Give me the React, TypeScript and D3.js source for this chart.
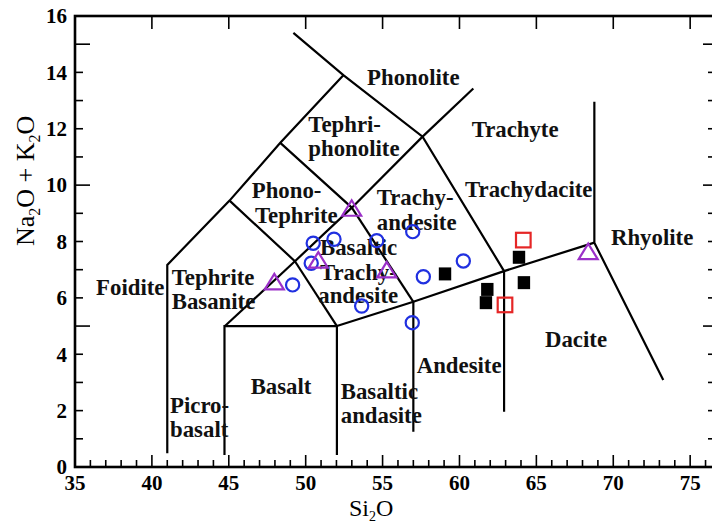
import React from "react";
import * as d3 from "d3";

// ---------- data ----------
const xTickLabels = [35, 40, 45, 50, 55, 60, 65, 70, 75];
const yTickLabels = [0, 2, 4, 6, 8, 10, 12, 14, 16];

// TAS field boundaries (SiO2, Na2O+K2O)
const boundaries: [number, number][][] = [
  [[41.0, 0.49], [41.0, 7.17], [45.05, 9.45], [48.35, 11.5], [52.45, 13.9]],
  [[49.2, 15.4], [52.45, 13.9], [57.6, 11.72], [62.9, 6.95]],
  [[57.6, 11.72], [60.9, 13.43]],
  [[48.35, 11.5], [53.0, 9.2], [57.6, 11.72]],
  [[45.05, 9.45], [49.3, 7.3], [53.0, 9.2]],
  [[53.0, 9.2], [57.0, 5.86]],
  [[49.3, 7.3], [52.03, 5.0]],
  [[44.75, 5.0], [49.3, 7.3]],
  [[44.72, 0.43], [44.72, 5.0], [52.03, 5.0], [52.03, 0.43]],
  [[52.03, 5.0], [57.0, 5.86], [62.9, 6.95], [68.77, 7.96]],
  [[57.0, 5.86], [57.0, 1.25]],
  [[62.9, 6.95], [62.9, 1.96]],
  [[68.77, 12.96], [68.77, 7.96], [73.25, 3.09]],
];

// field names: [text, SiO2 at start, alkali at baseline]
const fieldLabels: [string, number, number][] = [
  ["Phonolite", 53.99, 13.55],
  ["Tephri-", 50.17, 11.89],
  ["phonolite", 50.17, 11.05],
  ["Phono-", 46.49, 9.54],
  ["Tephrite", 46.7, 8.66],
  ["Trachy-", 54.62, 9.29],
  ["andesite", 54.62, 8.41],
  ["Trachyte", 60.79, 11.7],
  ["Trachydacite", 60.36, 9.59],
  ["Rhyolite", 69.85, 7.89],
  ["Dacite", 65.56, 4.27],
  ["Andesite", 57.22, 3.35],
  ["Basaltic", 52.28, 2.4],
  ["andasite", 52.28, 1.55],
  ["Basalt", 46.42, 2.59],
  ["Picro-", 41.18, 1.9],
  ["basalt", 41.18, 1.07],
  ["Foidite", 36.37, 6.1],
  ["Tephrite", 41.29, 6.46],
  ["Basanite", 41.29, 5.59],
  ["Basaltic", 50.93, 7.52],
  ["Trachy-", 50.93, 6.63],
  ["andesite", 50.82, 5.81],
];

const circleSi = [49.15, 50.36, 50.49, 51.84, 54.62, 53.64, 56.96, 60.25, 57.65, 56.93];
const circleAlk = [6.46, 7.23, 7.94, 8.08, 8.03, 5.71, 8.35, 7.31, 6.75, 5.12];

const triangleSi = [52.99, 50.82, 55.27, 47.96, 68.37];
const triangleAlk = [9.18, 7.34, 6.99, 6.57, 7.64];

const openSquareSi = [64.15, 62.96];
const openSquareAlk = [8.05, 5.75];

const filledSquareSi = [59.06, 61.81, 61.72, 63.87, 64.19];
const filledSquareAlk = [6.85, 6.3, 5.83, 7.44, 6.54];

// ---------- chart ----------
const W = 712;
const H = 527;
const FONT = "'Liberation Serif', 'Times New Roman', serif";

export default function App() {
  const x = d3.scaleLinear().domain([35, 76.68]).range([75, 716]);
  const y = d3.scaleLinear().domain([0, 16]).range([467, 16]);
  const line = d3
    .line<[number, number]>()
    .x((d) => x(d[0]))
    .y((d) => y(d[1]));

  const [x0, x1] = x.range();
  const [y0, y1] = y.range();
  const xInts = d3.range(36, 77);
  const yInts = d3.range(1, 16);

  return (
    <svg
      width={W}
      height={H}
      style={{ position: "absolute", left: 0, top: 0, background: "#fff" }}
      fontFamily={FONT}
    >
      {/* boundaries */}
      {boundaries.map((b, i) => (
        <path key={i} d={line(b) || ""} fill="none" stroke="#000" strokeWidth={2.2} strokeLinejoin="miter" />
      ))}

      {/* field labels */}
      {fieldLabels.map(([t, sx, sy], i) => (
        <text key={i} x={x(sx)} y={y(sy)} fontSize={22.8} fontWeight="bold" fill="#111">
          {t}
        </text>
      ))}

      {/* frame */}
      <rect x={x0} y={y1} width={x1 - x0} height={y0 - y1} fill="none" stroke="#000" strokeWidth={2.6} />

      {/* bottom ticks */}
      {xInts.map((v) => (
        <line key={"b" + v} x1={x(v)} x2={x(v)} y1={y0} y2={y0 - (v % 5 === 0 ? 12 : 7)} stroke="#000" strokeWidth={1.6} />
      ))}
      {/* top ticks */}
      {xInts.filter((v) => v % 5 === 0).map((v) => (
        <line key={"t" + v} x1={x(v)} x2={x(v)} y1={y1} y2={y1 + 13} stroke="#000" strokeWidth={1.6} />
      ))}
      {/* left ticks */}
      {yInts.map((v) => (
        <line key={"l" + v} x1={x0} x2={x0 + (v % 5 === 0 ? 15 : 8)} y1={y(v)} y2={y(v)} stroke="#000" strokeWidth={1.6} />
      ))}
      {/* right ticks */}
      {yInts.map((v) => (
        <line key={"r" + v} x1={x1} x2={x1 - (v % 5 === 0 ? 13 : 8)} y1={y(v)} y2={y(v)} stroke="#000" strokeWidth={1.6} />
      ))}

      {/* tick labels */}
      {xTickLabels.map((v) => (
        <text key={"xl" + v} x={x(v)} y={490} textAnchor="middle" fontSize={21} fontWeight="bold">
          {v}
        </text>
      ))}
      {yTickLabels.map((v) => (
        <text key={"yl" + v} x={67} y={y(v)} dy="0.35em" textAnchor="end" fontSize={21} fontWeight="bold">
          {v}
        </text>
      ))}

      {/* axis titles */}
      <text x={349} y={516} fontSize={24}>
        Si<tspan dy={5} fontSize={14}>2</tspan>
        <tspan dy={-5}>O</tspan>
      </text>
      <text transform="translate(34,246) rotate(-90)" fontSize={26}>
        Na<tspan dy={6} fontSize={16}>2</tspan>
        <tspan dy={-6}>O + K</tspan>
        <tspan dy={6} fontSize={16}>2</tspan>
        <tspan dy={-6}>O</tspan>
      </text>

      {/* samples */}
      {circleSi.map((s, i) => (
        <circle key={"c" + i} cx={x(s)} cy={y(circleAlk[i])} r={6.6} fill="none" stroke="#2030e0" strokeWidth={2.2} />
      ))}
      {triangleSi.map((s, i) => {
        const cx = x(s);
        const cy = y(triangleAlk[i]);
        return (
          <path
            key={"t" + i}
            d={`M${cx},${cy - 8}L${cx + 9.5},${cy + 7.5}L${cx - 9.5},${cy + 7.5}Z`}
            fill="none"
            stroke="#9b30c8"
            strokeWidth={2.2}
          />
        );
      })}
      {openSquareSi.map((s, i) => (
        <rect key={"os" + i} x={x(s) - 7.3} y={y(openSquareAlk[i]) - 7.3} width={14.6} height={14.6} fill="none" stroke="#e52626" strokeWidth={2.2} />
      ))}
      {filledSquareSi.map((s, i) => (
        <rect key={"fs" + i} x={x(s) - 6.2} y={y(filledSquareAlk[i]) - 6.5} width={12.4} height={13} fill="#000" />
      ))}
    </svg>
  );
}
